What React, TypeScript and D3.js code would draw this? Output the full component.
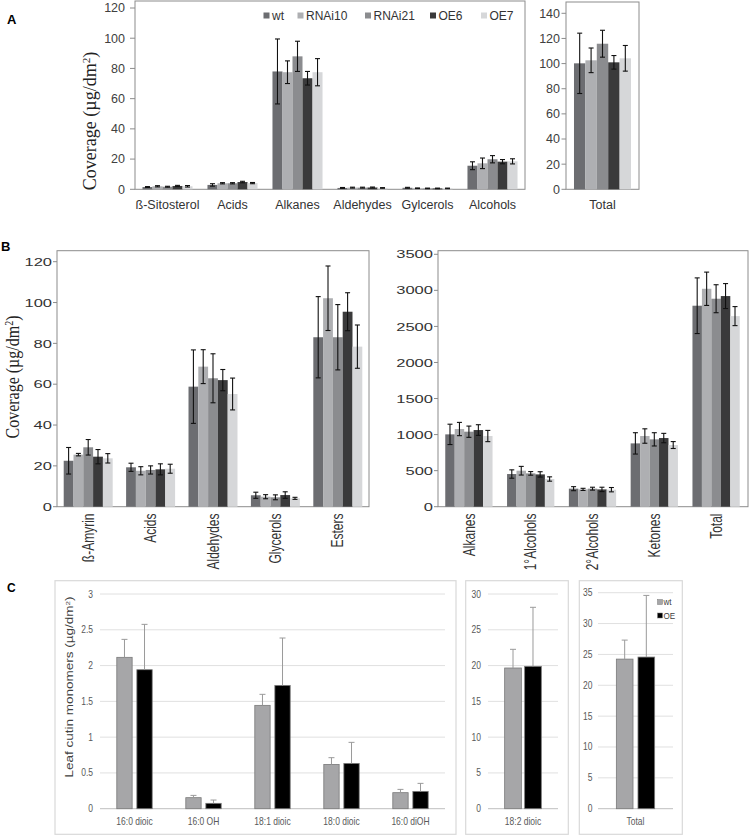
import React from "react";
import * as d3 from "d3";

// ---------- series ----------
const seriesAB = ["wt", "RNAi10", "RNAi21", "OE6", "OE7"];
const colorsAB = ["#6c6d71", "#aeafb2", "#8b8c8f", "#3a3a3b", "#d6d7d9"];

// ---------- Panel A ----------
const catA = ["ß-Sitosterol", "Acids", "Alkanes", "Aldehydes", "Gylcerols", "Alcohols"];
const aWt = [1.5, 2.9, 78, 0.9, 1.0, 15.6];
const aRNAi10 = [2.0, 4.0, 77.5, 1.1, 0.7, 17.2];
const aRNAi21 = [1.7, 4.0, 88, 1.1, 0.6, 19.9];
const aOE6 = [2.2, 4.8, 73.5, 1.2, 0.6, 18.3];
const aOE7 = [2.0, 4.1, 77.5, 0.9, 0.6, 18.5];
const aWtErr = [0.3, 0.8, 21.5, 0.3, 0.3, 2.6];
const aRNAi10Err = [0.4, 0.4, 7.5, 0.3, 0.2, 3.5];
const aRNAi21Err = [0.3, 0.4, 10, 0.3, 0.2, 2.4];
const aOE6Err = [0.4, 0.5, 4.5, 0.3, 0.2, 1.4];
const aOE7Err = [0.5, 0.4, 9, 0.2, 0.2, 1.7];
const ticksA = [0, 20, 40, 60, 80, 100, 120];

const catATotal = ["Total"];
const aTotal = [100.2, 102.6, 115.8, 101.0, 104.2];
const aTotalErr = [24, 9.8, 10.7, 5.4, 10.2];
const ticksATotal = [0, 20, 40, 60, 80, 100, 120, 140];

// ---------- Panel B ----------
const catB1 = ["ß-Amyrin", "Acids", "Aldehydes", "Glycerols", "Esters"];
const b1Wt = [22.5, 19.3, 58.8, 5.6, 83];
const b1RNAi10 = [25.5, 17.6, 68.6, 4.9, 102.1];
const b1RNAi21 = [29.1, 18.0, 62.9, 4.6, 83];
const b1OE6 = [24.5, 18.3, 62.0, 5.7, 95.5];
const b1OE7 = [23.7, 18.6, 55.2, 4.1, 78.4];
const b1WtErr = [6.5, 2.0, 18, 1.5, 19.9];
const b1RNAi10Err = [0.6, 2.0, 8.3, 1.0, 15.8];
const b1RNAi21Err = [3.8, 2.0, 12, 1.2, 16];
const b1OE6Err = [3.5, 2.7, 5.2, 1.6, 9.3];
const b1OE7Err = [2.3, 2.2, 7.8, 0.5, 10.6];
const ticksB1 = [0, 20, 40, 60, 80, 100, 120];

const catB2 = ["Alkanes", "1°Alcohols", "2°Alcohols", "Ketones", "Total"];
const b2Wt = [1003, 453, 250, 878, 2787];
const b2RNAi10 = [1077, 499, 240, 980, 3022];
const b2RNAi21 = [1040, 462, 250, 934, 2884];
const b2OE6 = [1063, 448, 240, 952, 2921];
const b2OE7 = [980, 384, 236, 855, 2643];
const b2WtErr = [141, 58, 28, 148, 386];
const b2RNAi10Err = [92, 60, 15, 100, 231];
const b2RNAi21Err = [78, 25, 20, 92, 194];
const b2OE6Err = [74, 37, 30, 65, 173];
const b2OE7Err = [78, 30, 30, 48, 132];
const ticksB2 = [0, 500, 1000, 1500, 2000, 2500, 3000, 3500];

// ---------- Panel C ----------
const seriesC = ["wt", "OE"];
const colorsC = ["#a6a6a8", "#000000"];
const catC1 = ["16:0 dioic", "16:0 OH", "18:1 dioic", "18:0 dioic", "16:0 diOH"];
const c1Wt = [2.115, 0.154, 1.444, 0.619, 0.224];
const c1OE = [1.942, 0.075, 1.723, 0.633, 0.242];
const c1WtErr = [0.251, 0.032, 0.154, 0.094, 0.046];
const c1OEErr = [0.634, 0.046, 0.662, 0.294, 0.112];
const ticksC1 = [0, 0.5, 1, 1.5, 2, 2.5, 3];

const catC2 = ["18:2 dioic"];
const c2Wt = [19.66];
const c2OE = [19.89];
const c2WtErr = [2.61];
const c2OEErr = [8.25];
const ticksC2 = [0, 5, 10, 15, 20, 25, 30];

const catC3 = ["Total"];
const c3Wt = [24.24];
const c3OE = [24.57];
const c3WtErr = [3.08];
const c3OEErr = [9.99];
const ticksC3 = [0, 5, 10, 15, 20, 25, 30, 35];

const SANS = "'Liberation Sans', Arial, sans-serif";
const SERIF = "'Liberation Serif', 'Times New Roman', serif";

type BarsProps = {
  cats: string[];
  series: string[];
  vals: number[][];
  errs: number[][];
  colors: string[];
  x0: d3.ScaleBand<string>;
  y: d3.ScaleLinear<number, number>;
  innerPad: number;
  errColor: string;
  errW: number;
  capW: number;
  stroke?: string;
  strokeW?: number;
  upOnly?: boolean;
};

function Bars(p: BarsProps) {
  const x1 = d3.scaleBand<string>().domain(p.series).range([0, p.x0.bandwidth()]).paddingInner(p.innerPad);
  const bw = x1.bandwidth();
  return (
    <g>
      {p.cats.map((c, i) =>
        p.series.map((s, j) => {
          const v = p.vals[j][i];
          const e = p.errs[j][i];
          const bx = (p.x0(c) as number) + (x1(s) as number);
          const cx = bx + bw / 2;
          const yT = p.y(v + e);
          const yB = p.upOnly ? p.y(v) : p.y(Math.max(0, v - e));
          return (
            <g key={c + s}>
              <rect x={bx} y={p.y(v)} width={bw} height={p.y(0) - p.y(v)} fill={p.colors[j]}
                stroke={p.stroke || "none"} strokeWidth={p.strokeW || 0} />
              <line x1={cx} x2={cx} y1={yT} y2={yB} stroke={p.errColor} strokeWidth={p.errW} />
              <line x1={cx - p.capW / 2} x2={cx + p.capW / 2} y1={yT} y2={yT} stroke={p.errColor} strokeWidth={p.errW} />
              {!p.upOnly && (
                <line x1={cx - p.capW / 2} x2={cx + p.capW / 2} y1={yB} y2={yB} stroke={p.errColor} strokeWidth={p.errW} />
              )}
            </g>
          );
        })
      )}
    </g>
  );
}

type AxisProps = {
  y: d3.ScaleLinear<number, number>;
  ticks: number[];
  x: number;
  tickLen: number;
  labelX: number;
  fontSize: number;
  color: string;
  sx?: number;
  fmt?: (v: number) => string;
};

function YLabels(p: AxisProps) {
  const sx = p.sx || 1;
  return (
    <g>
      {p.ticks.map((t) => (
        <g key={t}>
          {p.tickLen > 0 && (
            <line x1={p.x - p.tickLen} x2={p.x} y1={p.y(t)} y2={p.y(t)} stroke="#8c8c8c" strokeWidth={1} />
          )}
          <text transform={`translate(${p.labelX},${p.y(t)}) scale(${sx},1)`} dy="0.35em" textAnchor="end"
            fontSize={p.fontSize} fontFamily={SANS} fill={p.color}>
            {p.fmt ? p.fmt(t) : String(t)}
          </text>
        </g>
      ))}
    </g>
  );
}

export default function App() {
  // ----- A -----
  const yA = d3.scaleLinear().domain([0, 120]).range([189.3, 8]);
  const xA = d3.scaleBand<string>().domain(catA).range([135, 525]).paddingInner(0.23).paddingOuter(0.115);
  const yAT = d3.scaleLinear().domain([0, 140]).range([189.3, 13.3]);
  const xAT = d3.scaleBand<string>().domain(catATotal).range([566, 639]).paddingOuter(0.14);
  const valsA = [aWt, aRNAi10, aRNAi21, aOE6, aOE7];
  const errsA = [aWtErr, aRNAi10Err, aRNAi21Err, aOE6Err, aOE7Err];
  const valsAT = aTotal.map((v) => [v]);
  const errsAT = aTotalErr.map((v) => [v]);
  const legendX = [263.5, 297.5, 365, 430, 481];

  // ----- B -----
  const yB1 = d3.scaleLinear().domain([0, 120]).range([506.7, 261.7]);
  const xB1 = d3.scaleBand<string>().domain(catB1).range([57, 369]).paddingInner(0.215).paddingOuter(0.1075);
  const valsB1 = [b1Wt, b1RNAi10, b1RNAi21, b1OE6, b1OE7];
  const errsB1 = [b1WtErr, b1RNAi10Err, b1RNAi21Err, b1OE6Err, b1OE7Err];
  const yB2 = d3.scaleLinear().domain([0, 3500]).range([506.7, 254.3]);
  const xB2 = d3.scaleBand<string>().domain(catB2).range([438, 747]).paddingInner(0.235).paddingOuter(0.1175);
  const valsB2 = [b2Wt, b2RNAi10, b2RNAi21, b2OE6, b2OE7];
  const errsB2 = [b2WtErr, b2RNAi10Err, b2RNAi21Err, b2OE6Err, b2OE7Err];

  // ----- C -----
  const yC1 = d3.scaleLinear().domain([0, 3]).range([808.7, 594]);
  const xC1 = d3.scaleBand<string>().domain(catC1).range([100, 445]).paddingInner(0.487).paddingOuter(0.2435);
  const yC2 = d3.scaleLinear().domain([0, 30]).range([808.7, 594]);
  const xC2 = d3.scaleBand<string>().domain(catC2).range([488, 558]).paddingOuter(0.454);
  const yC3 = d3.scaleLinear().domain([0, 35]).range([808.7, 592.7]);
  const xC3 = d3.scaleBand<string>().domain(catC3).range([598, 673]).paddingOuter(0.479);

  const gridC = (y: d3.ScaleLinear<number, number>, ticks: number[], x1: number, x2: number) =>
    ticks.map((t) => (
      <line key={t} x1={x1} x2={x2} y1={y(t)} y2={y(t)} stroke={t === 0 ? "#bfbfbf" : "#e0e0e0"} strokeWidth={1} />
    ));

  const catLabelsC = (cats: string[], x0: d3.ScaleBand<string>) =>
    cats.map((c) => (
      <text key={c} transform={`translate(${(x0(c) as number) + x0.bandwidth() / 2},825) scale(0.85,1)`}
        textAnchor="middle" fontSize={10} fontFamily={SANS} fill="#595959">{c}</text>
    ));

  return (
    <svg width={750} height={836} style={{ position: "absolute", left: 0, top: 0, background: "#fff" }}
      fontFamily={SANS}>
      <rect x={0} y={0} width={750} height={836} fill="#fff" />

      {/* ================= A ================= */}
      <text x={7} y={24} fontSize={13} fontWeight="bold" fontFamily={SANS} fill="#000">A</text>
      <text transform="translate(96,121) rotate(-90)" textAnchor="middle" fontSize={18} fontFamily={SERIF} fill="#222">
        Coverage (µg/dm<tspan dy={-6} fontSize={11}>2</tspan><tspan dy={6}>)</tspan>
      </text>
      <rect x={135} y={1} width={390} height={188.3} fill="none" stroke="#8c8c8c" strokeWidth={1} />
      <YLabels y={yA} ticks={ticksA} x={135} tickLen={5} labelX={125} fontSize={12.5} color="#404040" />
      <Bars cats={catA} series={seriesAB} vals={valsA} errs={errsA} colors={colorsAB} x0={xA} y={yA}
        innerPad={0} errColor="#111" errW={1.1} capW={5} />
      {catA.map((c) => (
        <text key={c} x={(xA(c) as number) + xA.bandwidth() / 2} y={208.5} textAnchor="middle" fontSize={12.5}
          fill="#333">{c}</text>
      ))}
      {seriesAB.map((s, j) => (
        <g key={s}>
          <rect x={legendX[j]} y={12.5} width={6} height={6} fill={colorsAB[j]} />
          <text x={legendX[j] + 8.5} y={20} fontSize={12} fill="#333">{s}</text>
        </g>
      ))}

      <rect x={566} y={2} width={73} height={187.3} fill="none" stroke="#8c8c8c" strokeWidth={1} />
      <YLabels y={yAT} ticks={ticksATotal} x={566} tickLen={4.5} labelX={560} fontSize={12.5} color="#404040" />
      <Bars cats={catATotal} series={seriesAB} vals={valsAT} errs={errsAT} colors={colorsAB} x0={xAT} y={yAT}
        innerPad={0} errColor="#111" errW={1.1} capW={5} />
      <text x={602.5} y={208.5} textAnchor="middle" fontSize={12.5} fill="#333">{catATotal[0]}</text>

      {/* ================= B ================= */}
      <text x={1} y={250.5} fontSize={13} fontWeight="bold" fontFamily={SANS} fill="#000">B</text>
      <text transform="translate(19,377) scale(1.15,1) rotate(-90)" textAnchor="middle" fontSize={16}
        fontFamily={SERIF} fill="#222">
        Coverage (µg/dm<tspan dy={-5.5} fontSize={10}>2</tspan><tspan dy={5.5}>)</tspan>
      </text>
      <rect x={57} y={250.7} width={312} height={256} fill="none" stroke="#8c8c8c" strokeWidth={1} />
      <YLabels y={yB1} ticks={ticksB1} x={57} tickLen={4} labelX={52} fontSize={11.8} sx={1.4} color="#333" />
      <Bars cats={catB1} series={seriesAB} vals={valsB1} errs={errsB1} colors={colorsAB} x0={xB1} y={yB1}
        innerPad={0} errColor="#111" errW={1.1} capW={5} />
      {catB1.map((c) => (
        <text key={c} transform={`translate(${(xB1(c) as number) + xB1.bandwidth() / 2},513.5) scale(1.35,1) rotate(-90)`}
          dy="0.35em" textAnchor="end" fontSize={12} fill="#333">{c}</text>
      ))}

      <rect x={438} y={250.7} width={310} height={256} fill="none" stroke="#8c8c8c" strokeWidth={1} />
      <YLabels y={yB2} ticks={ticksB2} x={438} tickLen={4} labelX={433} fontSize={11.8} sx={1.4} color="#333" />
      <Bars cats={catB2} series={seriesAB} vals={valsB2} errs={errsB2} colors={colorsAB} x0={xB2} y={yB2}
        innerPad={0} errColor="#111" errW={1.1} capW={5} />
      {catB2.map((c) => (
        <text key={c} transform={`translate(${(xB2(c) as number) + xB2.bandwidth() / 2},513.5) scale(1.35,1) rotate(-90)`}
          dy="0.35em" textAnchor="end" fontSize={12} fill="#333">{c}</text>
      ))}

      {/* ================= C ================= */}
      <text x={7} y={592} fontSize={12} fontWeight="bold" fontFamily={SANS} fill="#000">C</text>

      {/* C1 */}
      <rect x={55} y={580.7} width={401} height={253.6} fill="none" stroke="#d9d9d9" strokeWidth={1.2} />
      {gridC(yC1, ticksC1, 100, 445)}
      <YLabels y={yC1} ticks={ticksC1} x={100} tickLen={0} labelX={93} fontSize={10} sx={0.85} color="#595959" />
      <text transform="translate(73,687) scale(0.75,1) rotate(-90)" textAnchor="middle" fontSize={13.5}
        fill="#404040">
        Leaf cutin monomers (µg/dm<tspan dy={-4.5} fontSize={8}>2</tspan><tspan dy={4.5}>)</tspan>
      </text>
      <Bars cats={catC1} series={seriesC} vals={[c1Wt, c1OE]} errs={[c1WtErr, c1OEErr]} colors={colorsC}
        x0={xC1} y={yC1} innerPad={0.235} errColor="#9a9a9a" errW={1} capW={6} stroke="#7a7a7a" strokeW={0.8}
        upOnly />
      {catLabelsC(catC1, xC1)}

      {/* C2 */}
      <rect x={465.7} y={580.7} width={102.6} height={253.6} fill="none" stroke="#d9d9d9" strokeWidth={1.2} />
      {gridC(yC2, ticksC2, 488, 558)}
      <YLabels y={yC2} ticks={ticksC2} x={488} tickLen={0} labelX={481} fontSize={10} sx={0.85} color="#595959" />
      <Bars cats={catC2} series={seriesC} vals={[c2Wt, c2OE]} errs={[c2WtErr, c2OEErr]} colors={colorsC}
        x0={xC2} y={yC2} innerPad={0.165} errColor="#9a9a9a" errW={1} capW={6} stroke="#7a7a7a" strokeW={0.8}
        upOnly />
      {catLabelsC(catC2, xC2)}

      {/* C3 */}
      <rect x={579.3} y={580.7} width={103} height={253.6} fill="none" stroke="#d9d9d9" strokeWidth={1.2} />
      {gridC(yC3, ticksC3, 598, 673)}
      <YLabels y={yC3} ticks={ticksC3} x={598} tickLen={0} labelX={592.5} fontSize={10} sx={0.85} color="#595959" />
      <Bars cats={catC3} series={seriesC} vals={[c3Wt, c3OE]} errs={[c3WtErr, c3OEErr]} colors={colorsC}
        x0={xC3} y={yC3} innerPad={0.23} errColor="#9a9a9a" errW={1} capW={6} stroke="#7a7a7a" strokeW={0.8}
        upOnly />
      {catLabelsC(catC3, xC3)}
      {seriesC.map((s, j) => (
        <g key={s}>
          <rect x={657.5} y={599.5 + j * 13.5} width={5} height={5} fill={colorsC[j]} stroke="#7a7a7a" strokeWidth={0.5} />
          <text transform={`translate(663.5,${605 + j * 13.5}) scale(0.85,1)`} fontSize={9.5} fill="#404040">{s}</text>
        </g>
      ))}
    </svg>
  );
}
